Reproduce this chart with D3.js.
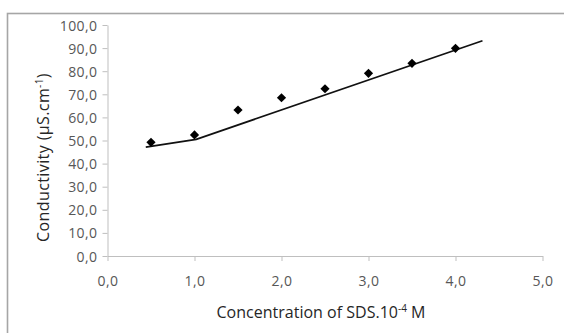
<!DOCTYPE html>
<html>
<head>
<meta charset="utf-8">
<script src="https://cdn.jsdelivr.net/npm/d3@7/dist/d3.min.js"></script>
<style>
  html, body { margin: 0; padding: 0; background: #fff; }
  svg { display: block; }
</style>
</head>
<body>
<svg id="chart" width="564" height="333"></svg>
<script>
// ---- data ----
const concentration = [0.5, 1.0, 1.5, 2.0, 2.5, 3.0, 3.5, 4.0];
const conductivity  = [49.2, 52.4, 63.2, 68.5, 72.4, 79.1, 83.4, 89.9];
const fitX = [0.44, 1.02, 4.31];
const fitY = [47.1, 50.5, 93.2];
const xTicks = [0, 1, 2, 3, 4, 5];
const xTickLabels = ["0,0", "1,0", "2,0", "3,0", "4,0", "5,0"];
const yTicks = [0, 10, 20, 30, 40, 50, 60, 70, 80, 90, 100];
const yTickLabels = ["0,0", "10,0", "20,0", "30,0", "40,0", "50,0", "60,0", "70,0", "80,0", "90,0", "100,0"];
const xTitle = "Concentration of SDS.10";
const xTitleSup = "-4";
const xTitleEnd = " M";
const yTitle = "Conductivity (µS.cm";
const yTitleSup = "-1";
const yTitleEnd = ")";

// ---- layout ----
const svg = d3.select("#chart");
const mLeft = 107.5, mRight = 542.5, mTop = 25, mBottom = 256;
const font = "'Open Sans', 'Noto Sans', sans-serif";

const x = d3.scaleLinear().domain([0, 5]).range([mLeft, mRight]);
const y = d3.scaleLinear().domain([0, 100]).range([mBottom, mTop]);

// outer frame (extends beyond the picture on right & bottom)
svg.append("rect")
  .attr("x", 7.5).attr("y", 13.5)
  .attr("width", 600).attr("height", 400)
  .attr("fill", "none").attr("stroke", "#a6a6a6").attr("stroke-width", 1.6);

// y axis
const gy = svg.append("g").attr("transform", `translate(${mLeft},0)`)
  .call(d3.axisLeft(y).tickValues(yTicks).tickSizeInner(5).tickSizeOuter(0)
    .tickFormat((d, i) => yTickLabels[i]));
gy.select(".domain").attr("stroke", "#bfbfbf");
gy.selectAll(".tick line").attr("stroke", "#bfbfbf");
gy.selectAll(".tick text")
  .attr("x", -10.1).attr("dy", "0.36em")
  .attr("fill", "#575757").style("font-family", font).style("font-size", "14px")
  .style("letter-spacing", "0.4px");

// x axis
const gx = svg.append("g").attr("transform", `translate(0,${mBottom})`)
  .call(d3.axisBottom(x).tickValues(xTicks).tickSizeInner(5).tickSizeOuter(0)
    .tickFormat((d, i) => xTickLabels[i]));
gx.select(".domain").attr("stroke", "#bfbfbf");
gx.selectAll(".tick line").attr("stroke", "#bfbfbf");
gx.selectAll(".tick text")
  .attr("y", 30).attr("dy", 0)
  .attr("fill", "#575757").style("font-family", font).style("font-size", "14px")
  .style("letter-spacing", "0.4px");

// fit line
const line = d3.line().x(d => x(d[0])).y(d => y(d[1]));
svg.append("path")
  .datum(d3.zip(fitX, fitY))
  .attr("d", line)
  .attr("fill", "none").attr("stroke", "#111").attr("stroke-width", 1.7);

// markers
const sym = d3.symbol().type(d3.symbolDiamond2).size(54);
svg.selectAll(".pt")
  .data(d3.zip(concentration, conductivity))
  .join("path")
  .attr("class", "pt")
  .attr("transform", d => `translate(${x(d[0])},${y(d[1])})`)
  .attr("d", sym)
  .attr("fill", "#000");

// helper: spread title letters so it spans the reference width
function fitWidth(sel, target) {
  const n = sel.text().length;
  const len = sel.node().getComputedTextLength();
  const ls = (target - len) / n;
  sel.style("letter-spacing", ls + "px");
}

// x title
const xt = svg.append("text")
  .attr("x", 321).attr("y", 317.5)
  .attr("text-anchor", "middle")
  .attr("fill", "#262626").style("font-family", font).style("font-size", "16px");
xt.append("tspan").text(xTitle);
xt.append("tspan").text(xTitleSup).attr("dy", -6).style("font-size", "10px");
xt.append("tspan").text(xTitleEnd).attr("dy", 6);
fitWidth(xt, 209);

// y title
const yt = svg.append("text")
  .attr("transform", `translate(48.5,157.5) rotate(-90)`)
  .attr("text-anchor", "middle")
  .attr("fill", "#262626").style("font-family", font).style("font-size", "16px");
yt.append("tspan").text(yTitle);
yt.append("tspan").text(yTitleSup).attr("dy", -6).style("font-size", "10px");
yt.append("tspan").text(yTitleEnd).attr("dy", 6);
fitWidth(yt, 169);
</script>
</body>
</html>
